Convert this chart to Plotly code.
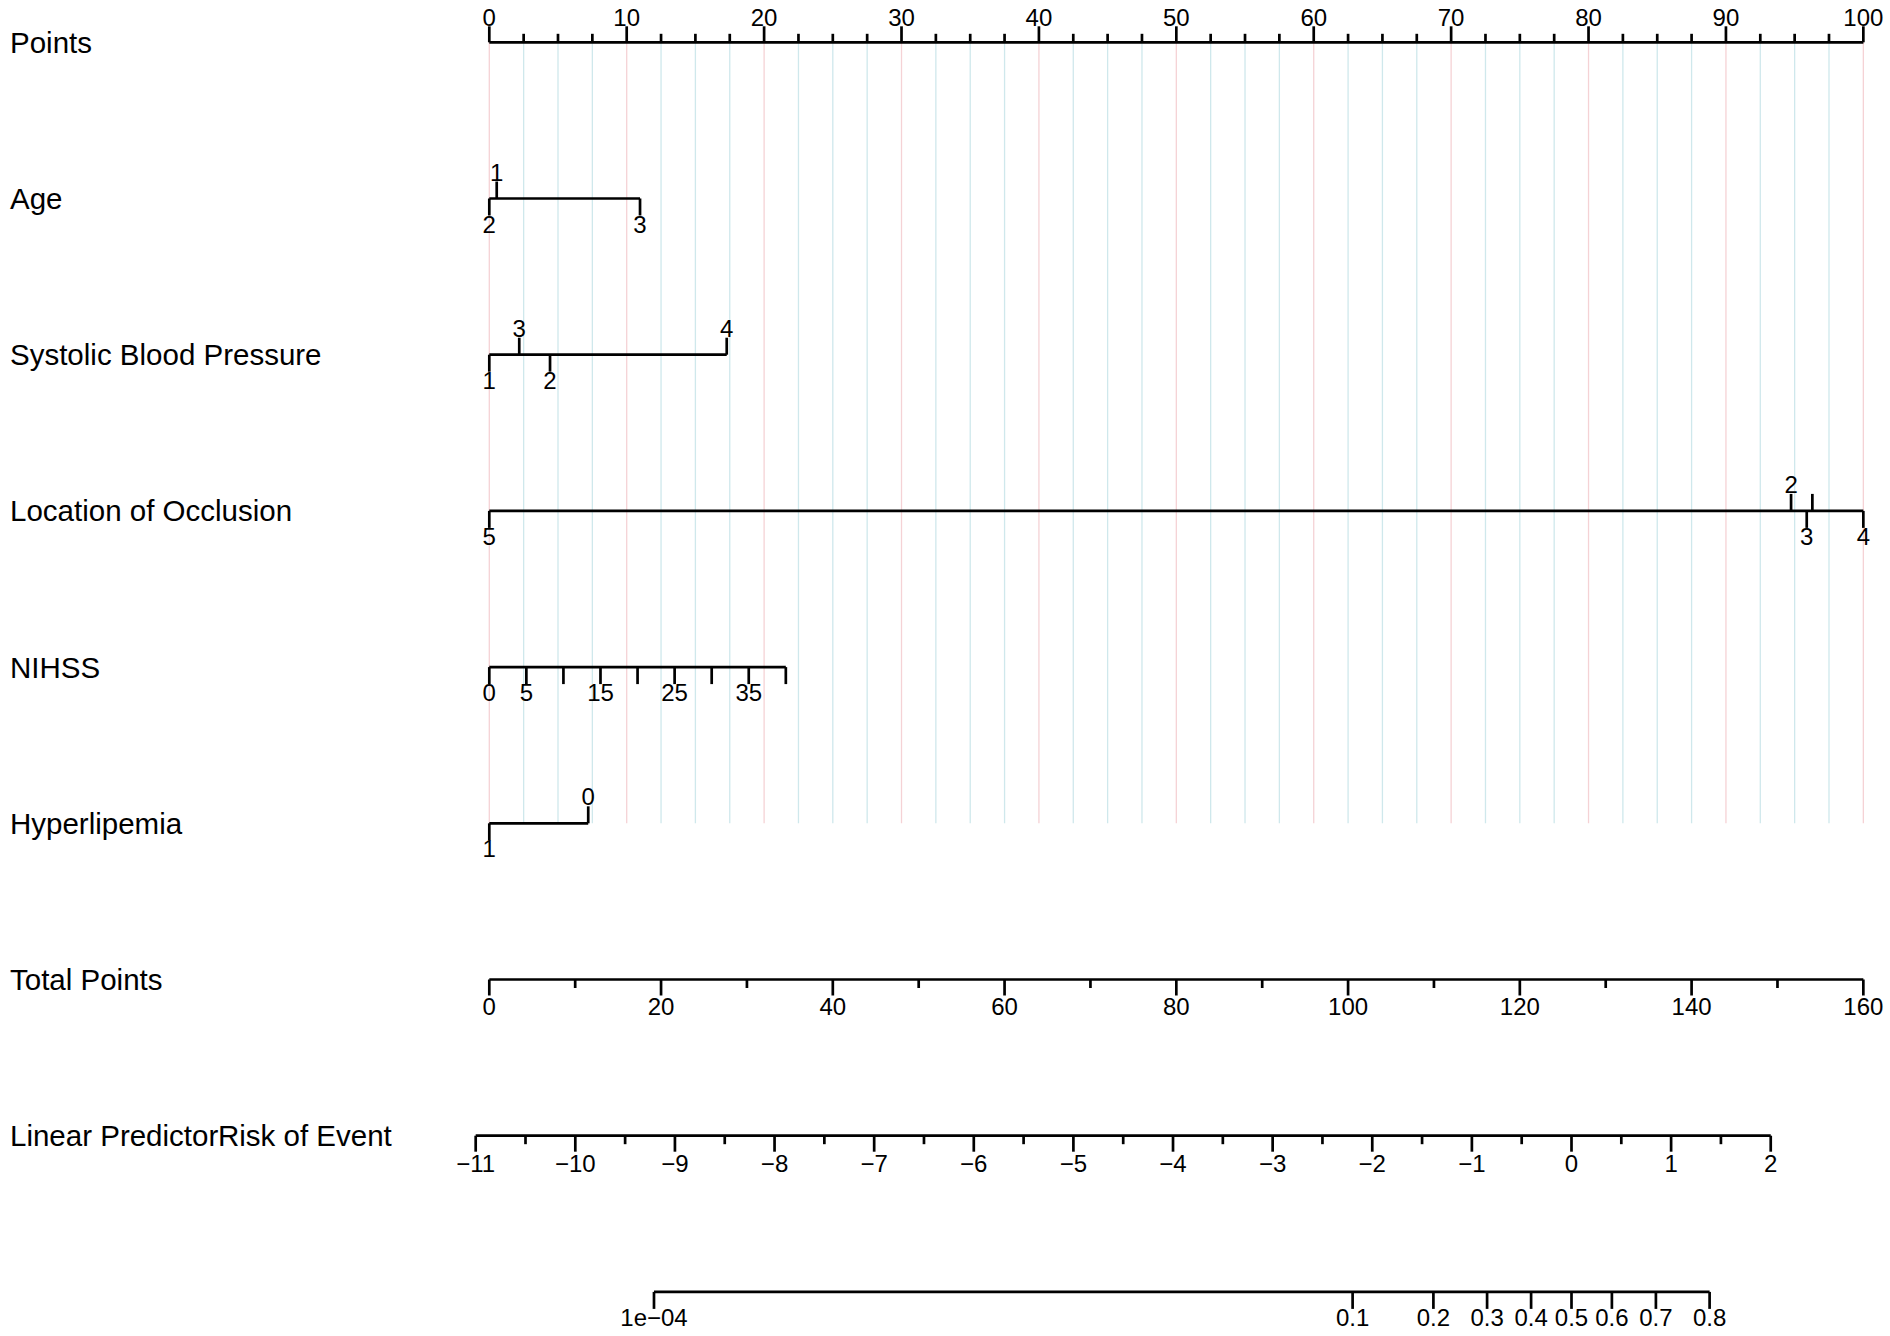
import numpy as np
import plotly.graph_objects as go

# ---- values (positions on the 0-100 Points scale) ----
POINTS_LABELS = [0, 10, 20, 30, 40, 50, 60, 70, 80, 90, 100]

AGE_LEVELS = ["2", "1", "3"]
AGE_POINTS = [0, 0.54, 10.97]
AGE_UP = [False, True, False]

SBP_LEVELS = ["1", "3", "2", "4"]
SBP_POINTS = [0, 2.18, 4.42, 17.28]
SBP_UP = [False, True, False, True]

# level "1" sits between 3 and 4, its label is dropped (overlap)
LOC_LEVELS = ["5", "2", "3", "4", ""]
LOC_POINTS = [0, 94.74, 95.88, 100, 96.29]
LOC_UP = [False, True, False, False, True]

NIHSS_VALUES = [0, 5, 10, 15, 20, 25, 30, 35, 40]
NIHSS_LABELS = ["0", "5", "", "15", "", "25", "", "35", ""]
NIHSS_MAX_POINTS = 21.58  # points given to NIHSS = 40

HYPER_LEVELS = ["1", "0"]
HYPER_POINTS = [0, 7.2]
HYPER_UP = [False, True]

TOTAL_LABELS = [0, 20, 40, 60, 80, 100, 120, 140, 160]
TOTAL_MAX = 160

LP_LABELS = [-11, -10, -9, -8, -7, -6, -5, -4, -3, -2, -1, 0, 1, 2]
LP_AT_ZERO_POINTS = -0.99 + 11 * 7.25   # where LP = 0 falls on the Points scale
POINTS_PER_LP = 7.25

RISK_VALUES = [1e-4, 0.1, 0.2, 0.3, 0.4, 0.5, 0.6, 0.7, 0.8]
RISK_LABELS = ["1e\u221204", "0.1", "0.2", "0.3", "0.4", "0.5", "0.6", "0.7", "0.8"]

ROW_NAMES = ["Points", "Age", "Systolic Blood Pressure", "Location of Occlusion",
             "NIHSS", "Hyperlipemia", "Total Points", "Linear Predictor"]

# ---- layout constants ----
W, H = 1890, 1336
PTS_RANGE = [-35.61, 101.94]          # points scale across the whole width
ROW_PX = 156.2                         # pixels between rows
TOP_PX = 42.3                          # pixel y of the Points axis
PX = 1.0 / ROW_PX
TICK = 17 * PX
MAJ = 16 * PX
MIN = 8.5 * PX
LAB_UP = 24 * PX
LAB_DN = 28 * PX
FONT = "Liberation Sans, Arial"
TICKFONT = dict(family=FONT, size=24, color="black")
LINE = dict(color="black", width=2.7)


def segments(xs, y0, y1s):
    X, Y = [], []
    for x, y1 in zip(xs, y1s):
        X += [x, x, None]
        Y += [y0, y1, None]
    return X, Y


fig = go.Figure()

# light grid from the Points axis down to the last predictor
grid = np.arange(0, 100.01, 2.5)
pink = [g for g in grid if g % 10 == 0]
blue = [g for g in grid if g % 10 != 0]
for vals, col in [(blue, "#cfe8ec"), (pink, "#f5d2d5")]:
    X, Y = segments(vals, 0, [5] * len(vals))
    fig.add_trace(go.Scatter(x=X, y=Y, mode="lines", line=dict(color=col, width=1.3)))


def add_scale(axis, row, vals, labels, lo, hi, tick_len, up, minor=None, minor_len=None, lab_off=None):
    X = [lo, hi, None]
    Y = [row, row, None]
    sgn = -1 if up else 1
    tx, ty = segments(vals, row, [row + sgn * tick_len] * len(vals))
    X += tx
    Y += ty
    if minor is not None:
        mx, my = segments(minor, row, [row + sgn * minor_len] * len(minor))
        X += mx
        Y += my
    fig.add_trace(go.Scatter(x=X, y=Y, mode="lines", line=LINE, xaxis=axis))
    off = lab_off if lab_off is not None else (LAB_UP if up else LAB_DN)
    fig.add_trace(go.Scatter(x=vals, y=[row + sgn * off] * len(vals), mode="text",
                             text=[str(l) for l in labels], textposition="middle center",
                             textfont=TICKFONT, xaxis=axis, cliponaxis=False))


def add_variable(row, pts, labels, up):
    X = [min(pts), max(pts), None]
    Y = [row, row, None]
    tx, ty = segments(pts, row, [row - TICK if u else row + TICK for u in up])
    fig.add_trace(go.Scatter(x=X + tx, y=Y + ty, mode="lines", line=LINE))
    fig.add_trace(go.Scatter(x=pts, y=[row - LAB_UP if u else row + LAB_DN for u in up],
                             mode="text", text=labels, textposition="middle center",
                             textfont=TICKFONT, cliponaxis=False))


# Points
add_scale("x", 0, POINTS_LABELS, POINTS_LABELS, 0, 100, MAJ, True,
          minor=[g for g in grid if g % 10 != 0], minor_len=MIN, lab_off=22 * PX)

add_variable(1, AGE_POINTS, AGE_LEVELS, AGE_UP)
add_variable(2, SBP_POINTS, SBP_LEVELS, SBP_UP)
add_variable(3, LOC_POINTS, LOC_LEVELS, LOC_UP)

# NIHSS on its own axis (NIHSS units)
add_scale("x5", 4, NIHSS_VALUES, NIHSS_LABELS, 0, max(NIHSS_VALUES), TICK, False)

add_variable(5, HYPER_POINTS, HYPER_LEVELS, HYPER_UP)

# Total points
add_scale("x2", 6, TOTAL_LABELS, TOTAL_LABELS, 0, TOTAL_MAX, MAJ, False,
          minor=[t + 10 for t in TOTAL_LABELS[:-1]], minor_len=MIN, lab_off=29 * PX)

# Linear predictor
lp_labels = [str(v).replace("-", "\u2212") for v in LP_LABELS]
add_scale("x3", 7, LP_LABELS, lp_labels, LP_LABELS[0], LP_LABELS[-1], MAJ, False,
          minor=[v + 0.5 for v in LP_LABELS[:-1]], minor_len=MIN, lab_off=30 * PX)

# Risk of event (logit units on the LP axis)
risk_logit = [float(np.log(p / (1 - p))) for p in RISK_VALUES]
add_scale("x4", 8, risk_logit, RISK_LABELS, risk_logit[0], risk_logit[-1], TICK, False,
          lab_off=28 * PX)

# row names
for i, name in enumerate(ROW_NAMES):
    fig.add_annotation(x=8 / W, xref="paper", xanchor="left", y=i, yref="y",
                       text=name, showarrow=False,
                       font=dict(family=FONT, size=29.5, color="black"))
fig.add_annotation(x=216 / W, xref="paper", xanchor="left", y=7, yref="y",
                   text="Risk of Event", showarrow=False,
                   font=dict(family=FONT, size=29.5, color="black"))

lp_range = [(p - LP_AT_ZERO_POINTS) / POINTS_PER_LP for p in PTS_RANGE]
hidden = dict(visible=False, fixedrange=True)
fig.update_layout(
    width=W, height=H,
    margin=dict(l=0, r=0, t=0, b=0),
    paper_bgcolor="white", plot_bgcolor="white",
    showlegend=False, hovermode=False,
    xaxis=dict(range=PTS_RANGE, **hidden),
    xaxis2=dict(range=[p * TOTAL_MAX / 100 for p in PTS_RANGE], overlaying="x", **hidden),
    xaxis3=dict(range=lp_range, overlaying="x", **hidden),
    xaxis4=dict(range=lp_range, overlaying="x", **hidden),
    xaxis5=dict(range=[p * max(NIHSS_VALUES) / NIHSS_MAX_POINTS for p in PTS_RANGE], overlaying="x", **hidden),
    yaxis=dict(range=[(H - TOP_PX) / ROW_PX, -TOP_PX / ROW_PX], **hidden),
)

# the page's default body margin would push the figure off the window
fig.write_html("out.html", config={"staticPlot": True},
               post_script="document.body.style.margin='0px'; document.body.style.overflow='hidden';")
